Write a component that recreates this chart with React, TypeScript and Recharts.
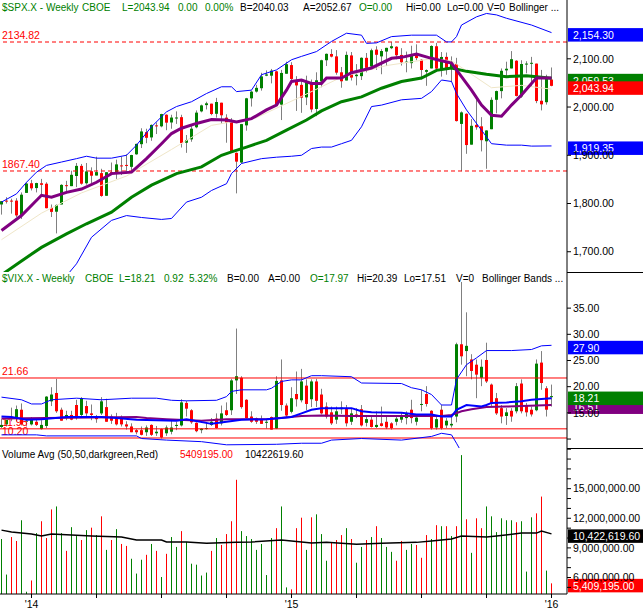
import React from "react";
import { ComposedChart, Bar, Line, XAxis, YAxis, ReferenceLine } from "recharts";

const FONT = "Arial, 'Liberation Sans', sans-serif";
const GREEN = "#008000";
const RED = "#ff0000";
const BLUE = "#0000ff";
const PURPLE = "#800080";
const WICK = "#808080";

const WIDTH = 643;
const AXIS_W = 76;
const X_DOMAIN: [number, number] = [-0.3, 113.1];

// weekly bars: index 0 = week of 18 Nov 2013, index 110 = week of 28 Dec 2015
const xTicks = [6, 19, 32, 45, 58, 71, 84, 97, 110];
const xTickLabels: Record<number, string> = { 6: "'14", 58: "'15", 110: "'16" };

// ---- $SPX weekly OHLC ----
const spxOpen = [
  1798, 1806, 1806, 1806, 1776, 1822, 1842, 1832, 1842, 1841,
  1791, 1783, 1798, 1838, 1836, 1857, 1878, 1842, 1867, 1858,
  1863, 1816, 1865, 1865, 1879, 1880, 1876, 1902, 1923, 1948,
  1937, 1962, 1960, 1984, 1968, 1977, 1979, 1926, 1933, 1958,
  1991, 2004, 2007, 1986, 2009, 1978, 1970, 1905, 1885, 1962,
  2018, 2032, 2039, 2065, 2065, 2074, 2005, 2069, 2087, 2054,
  2046, 2020, 2050, 1996, 2053, 2097, 2110, 2105, 2072, 2055,
  2107, 2064, 2064, 2102, 2084, 2119, 2105, 2115, 2122, 2125,
  2108, 2092, 2091, 2112, 2098, 2073, 2080, 2126, 2078, 2104,
  2080, 2089, 1965, 1986, 1922, 1963, 1960, 1929, 1954, 2015,
  2033, 2076, 2080, 2096, 2022, 2089, 2090, 2090, 2013, 2010,
  2057,
];
const spxHigh = [
  1805, 1813, 1810, 1811, 1823, 1844, 1849, 1843, 1851, 1844,
  1798, 1798, 1840, 1847, 1868, 1884, 1882, 1884, 1875, 1897,
  1872, 1865, 1885, 1891, 1897, 1902, 1901, 1924, 1956, 1955,
  1964, 1968, 1986, 1985, 1984, 1991, 1984, 1942, 1964, 1993,
  2005, 2011, 2007, 2019, 2009, 1985, 1977, 1906, 1965, 2019,
  2034, 2046, 2071, 2076, 2079, 2075, 2077, 2094, 2093, 2064,
  2056, 2065, 2057, 2072, 2098, 2111, 2120, 2118, 2083, 2115,
  2114, 2089, 2103, 2112, 2121, 2126, 2120, 2123, 2135, 2126,
  2122, 2115, 2127, 2130, 2099, 2078, 2128, 2133, 2114, 2113,
  2105, 2102, 1991, 1987, 1975, 2021, 1979, 1952, 2020, 2034,
  2080, 2094, 2116, 2097, 2097, 2095, 2104, 2090, 2077, 2067,
  2082,
];
const spxLow = [
  1777, 1800, 1779, 1772, 1768, 1822, 1827, 1823, 1815, 1790,
  1772, 1738, 1798, 1824, 1836, 1834, 1839, 1839, 1842, 1858,
  1814, 1816, 1859, 1851, 1859, 1862, 1868, 1901, 1915, 1925,
  1930, 1944, 1958, 1952, 1955, 1965, 1916, 1905, 1928, 1956,
  1989, 1995, 1983, 1978, 1965, 1926, 1906, 1821, 1883, 1951,
  2001, 2030, 2034, 2064, 2049, 2002, 1973, 2069, 2055, 1992,
  1988, 2004, 1989, 1981, 2041, 2085, 2103, 2067, 2040, 2055,
  2055, 2045, 2056, 2072, 2083, 2077, 2068, 2085, 2120, 2099,
  2086, 2072, 2080, 2097, 2057, 2044, 2080, 2077, 2063, 2067,
  2052, 1970, 1867, 1903, 1922, 1953, 1908, 1872, 1954, 1987,
  2018, 2062, 2080, 2022, 2019, 2070, 2042, 2008, 1993, 2005,
  2043,
];
const spxClose = [
  1804.8, 1805.8, 1805.1, 1775.3, 1818.3, 1841.4, 1831.4, 1842.4, 1838.7, 1790.3,
  1782.6, 1797.0, 1838.6, 1836.3, 1859.5, 1878.0, 1841.1, 1866.5, 1857.6, 1865.1,
  1815.7, 1864.9, 1863.4, 1881.1, 1878.5, 1877.9, 1900.5, 1923.6, 1949.4, 1936.2,
  1962.9, 1961.0, 1985.4, 1967.6, 1978.2, 1978.3, 1925.2, 1931.6, 1955.1, 1988.4,
  2003.4, 2007.7, 1985.5, 2010.4, 1982.9, 1967.9, 1906.1, 1886.8, 1964.6, 2018.1,
  2031.9, 2039.8, 2063.5, 2067.6, 2075.4, 2002.3, 2070.7, 2088.8, 2058.2, 2044.8,
  2019.4, 2051.8, 1995.0, 2055.5, 2097.0, 2110.3, 2104.5, 2071.3, 2053.4, 2108.1,
  2061.0, 2067.0, 2102.1, 2081.2, 2117.7, 2108.3, 2116.1, 2122.7, 2126.1, 2107.4,
  2092.8, 2094.1, 2110.0, 2101.5, 2076.8, 2076.6, 2126.6, 2079.7, 2103.8, 2077.6,
  2091.5, 1970.9, 1988.9, 1921.2, 1961.1, 1958.0, 1931.3, 1951.4, 2014.9, 2033.1,
  2075.2, 2079.4, 2099.2, 2023.0, 2089.2, 2090.1, 2091.7, 2012.4, 2005.6, 2061.0,
  2043.9,
];
const spxPrevClose = 1798.2; // close of the week before the first bar

// overlays, [week index, value]
const spxUpperBand: [number, number][] = [
  [0, 1803], [3, 1820], [5, 1844], [7, 1865], [9, 1879], [12, 1886], [15, 1893], [17, 1898],
  [19, 1894], [22, 1894], [25, 1900], [27, 1921], [30, 1959], [33, 1990], [35, 2001], [38, 2011],
  [41, 2028], [44, 2042], [46, 2042], [47, 2032], [50, 2035], [52, 2067], [55, 2077], [58, 2098],
  [60, 2105], [63, 2115], [66, 2136], [69, 2153], [72, 2149], [73, 2132], [75, 2133], [78, 2146],
  [82, 2149], [87, 2149], [89, 2135], [90, 2135], [91, 2146], [92, 2170], [95, 2187], [97, 2194],
  [99, 2191], [101, 2184], [106, 2170], [110, 2154.3],
];
const spxLowerBand: [number, number][] = [
  [0, 1630], [8, 1640], [13, 1650], [15, 1675], [18, 1730], [22, 1765], [25, 1775], [28, 1771],
  [32, 1767], [34, 1769], [37, 1803], [40, 1813], [42, 1827], [45, 1841], [46, 1862], [48, 1883],
  [52, 1893], [55, 1896], [58, 1898], [60, 1900], [62, 1914], [64, 1917], [66, 1917], [68, 1924],
  [70, 1931], [72, 1959], [74, 2001], [76, 2004], [80, 2015], [84, 2018], [86, 2032], [88, 2056],
  [90, 2053], [91, 2028], [93, 1994], [96, 1952], [98, 1924], [101, 1921], [104, 1921], [106, 1919],
  [110, 1919.35],
];
const spxMidBand: [number, number][] = [
  [0, 1725], [8, 1780], [16, 1822], [25, 1857], [34, 1912], [42, 1962], [51, 1978], [60, 2022],
  [68, 2062], [77, 2086], [86, 2100], [90, 2096], [98, 2040], [104, 2045], [110, 2037],
];
const spxMa10: [number, number][] = [
  [0, 1744], [4, 1775], [8, 1817], [10, 1813], [13, 1823], [16, 1830], [19, 1844], [22, 1862],
  [26, 1865], [29, 1893], [32, 1924], [34, 1945], [36, 1956], [39, 1966], [42, 1974], [45, 1973],
  [47, 1969], [50, 1976], [53, 1994], [55, 2004], [57, 2035], [58, 2053], [60, 2056], [62, 2049],
  [64, 2049], [65, 2060], [68, 2060], [70, 2071], [74, 2081], [78, 2101], [80, 2103], [83, 2110],
  [86, 2101], [88, 2096], [90, 2091], [92, 2063], [94, 2035], [96, 2004], [98, 1983], [100, 1981],
  [102, 2004], [104, 2025], [106, 2049], [107, 2060], [110, 2060],
];
const spxMa40: [number, number][] = [
  [0, 1652], [4, 1681], [8, 1709], [13, 1737], [17, 1758], [22, 1782], [26, 1813], [30, 1838],
  [35, 1862], [40, 1876], [44, 1900], [46, 1907], [49, 1917], [53, 1931], [57, 1952], [61, 1973],
  [64, 1992], [68, 2011], [72, 2021], [76, 2039], [80, 2053], [84, 2060], [87, 2076], [90, 2081],
  [93, 2074], [97, 2068], [101, 2063], [105, 2065], [110, 2059.53],
];
const spxTicks = [1700, 1800, 1900, 2000, 2100];
const spxLevels = [2134.82, 1867.4];
const spxTags: [number, string][] = [[2154.3, BLUE], [1919.35, BLUE], [2059.53, GREEN], [2043.94, RED]];

// ---- $VIX weekly OHLC ----
const vixOpen = [
  12.3, 12.8, 13.9, 14.0, 15.6, 13.4, 12.8, 13.3, 11.9, 12.5,
  17.2, 18.8, 15.6, 14.0, 14.6, 16.5, 14.6, 16.3, 14.9, 14.3,
  14.9, 16.1, 14.3, 14.2, 14.2, 12.8, 12.4, 11.7, 11.7, 11.3,
  12.7, 11.1, 11.9, 11.1, 11.4, 12.5, 12.6, 16.9, 15.5, 13.1,
  11.7, 12.0, 12.7, 13.9, 13.0, 15.5, 15.5, 21.2, 21.7, 17.5,
  14.3, 14.0, 13.7, 13.1, 14.2, 12.0, 21.2, 16.4, 15.2, 18.6,
  17.4, 20.2, 17.6, 21.0, 18.5, 16.2, 15.1, 13.7, 15.7, 15.9,
  13.3, 14.7, 15.7, 13.1, 13.7, 12.3, 13.0, 13.3, 13.0, 13.3,
  13.7, 14.0, 15.6, 13.3, 16.6, 18.6, 15.4, 12.2, 15.6, 12.6,
  12.6, 14.3, 28.1, 26.8, 25.2, 24.2, 21.7, 25.1, 20.4, 17.8,
  15.9, 14.4, 15.4, 15.3, 20.6, 16.4, 15.6, 15.5, 24.6, 19.7,
  18.0,
];
const vixHigh = [
  13.8, 13.5, 16.0, 16.4, 16.8, 14.0, 14.2, 13.9, 13.6, 18.2,
  19.9, 21.5, 16.0, 15.4, 15.4, 17.5, 18.0, 17.3, 16.6, 14.6,
  18.0, 17.7, 14.7, 15.0, 14.5, 13.4, 13.0, 11.9, 12.4, 12.6,
  12.8, 12.5, 12.0, 12.6, 13.7, 13.3, 17.6, 17.3, 15.7, 13.2,
  12.1, 13.1, 14.0, 14.9, 16.4, 17.0, 21.5, 31.1, 22.0, 17.6,
  15.3, 14.1, 14.5, 13.7, 14.3, 22.0, 25.2, 16.8, 19.9, 22.9,
  23.4, 21.4, 21.4, 21.5, 19.6, 17.0, 16.2, 16.2, 17.2, 16.5,
  15.9, 15.9, 16.5, 14.3, 14.4, 15.3, 16.2, 14.5, 13.2, 14.3,
  15.1, 15.3, 17.5, 14.5, 19.4, 20.1, 15.5, 14.2, 16.5, 14.0,
  14.5, 28.4, 40.0, 34.2, 26.2, 25.2, 25.2, 28.4, 20.6, 18.8,
  16.5, 15.9, 15.9, 20.7, 21.4, 16.9, 16.2, 25.2, 26.8, 20.1,
  20.4,
];
const vixLow = [
  12.1, 12.4, 13.4, 13.4, 12.6, 12.4, 12.6, 12.5, 11.8, 12.1,
  16.3, 15.0, 13.5, 13.6, 13.6, 13.7, 14.3, 14.2, 13.6, 13.1,
  14.6, 13.3, 12.9, 12.6, 12.4, 11.8, 11.3, 10.9, 10.7, 10.6,
  10.6, 10.6, 10.1, 10.6, 10.9, 11.7, 12.4, 14.3, 12.9, 11.3,
  11.1, 11.8, 12.5, 12.0, 12.6, 14.4, 14.6, 18.6, 15.8, 13.9,
  13.1, 12.9, 12.9, 12.0, 11.8, 11.9, 15.4, 14.1, 14.9, 16.2,
  17.0, 15.5, 16.1, 16.1, 14.7, 13.9, 12.7, 12.9, 14.8, 12.4,
  12.7, 14.0, 12.4, 12.4, 12.2, 12.1, 12.4, 11.9, 11.8, 12.6,
  13.1, 12.8, 13.0, 12.6, 15.3, 16.2, 11.8, 11.8, 11.8, 12.1,
  12.2, 13.2, 24.2, 22.0, 21.4, 17.8, 20.1, 20.7, 16.2, 14.6,
  13.0, 12.7, 13.3, 14.9, 14.9, 14.3, 14.3, 15.3, 19.4, 14.3,
  16.2,
];
const vixClose = [
  12.7, 13.7, 14.0, 15.7, 12.8, 13.5, 13.8, 12.7, 12.7, 18.1,
  18.5, 15.3, 13.5, 14.6, 13.7, 14.0, 17.8, 14.9, 14.6, 13.8,
  17.2, 13.3, 13.5, 12.8, 12.8, 12.4, 11.3, 11.3, 10.8, 12.2,
  10.8, 11.4, 10.3, 12.2, 12.2, 12.7, 17.0, 15.8, 13.2, 11.5,
  12.0, 12.1, 13.3, 12.1, 14.9, 14.6, 21.2, 22.0, 16.1, 14.0,
  13.3, 13.3, 12.9, 13.3, 11.8, 21.1, 16.5, 14.5, 17.8, 17.6,
  21.0, 16.7, 21.0, 17.3, 14.9, 14.3, 13.0, 15.3, 16.0, 13.0,
  14.9, 14.3, 12.6, 13.8, 12.3, 12.7, 12.5, 12.2, 12.1, 13.9,
  14.3, 14.9, 14.0, 14.1, 16.7, 16.7, 12.1, 13.8, 12.1, 13.5,
  12.9, 28.1, 25.8, 27.8, 23.0, 22.3, 23.8, 21.0, 16.9, 14.9,
  14.3, 15.1, 14.3, 20.1, 15.3, 15.1, 14.7, 24.4, 20.7, 15.6,
  18.2,
];
const vixUpperBand: [number, number][] = [
  [0, 18.0], [4, 17.5], [6, 16.7], [8, 16.7], [10, 17.5], [15, 17.8], [20, 17.5], [26, 17.8],
  [31, 17.8], [34, 17.4], [37, 17.3], [43, 17.4], [45, 18.1], [46, 19.1], [48, 19.4], [53, 19.4],
  [54, 19.7], [56, 21.0], [58, 21.3], [60, 21.3], [62, 22.1], [64, 22.1], [70, 21.9], [72, 20.7],
  [80, 20.6], [82, 19.8], [84, 19.4], [86, 18.5], [88, 16.5], [90, 16.5], [91, 21.4], [93, 24.2],
  [95, 25.5], [97, 26.9], [102, 26.9], [106, 27.1], [108, 27.8], [110, 27.9],
];
const vixLowerBand: [number, number][] = [
  [0, 10.8], [7, 10.8], [9, 10.6], [27, 10.6], [28, 10.1], [33, 9.8], [40, 9.5], [45, 8.9],
  [55, 9.0], [60, 9.2], [64, 9.2], [66, 9.8], [72, 10.1], [80, 9.8], [86, 10.5], [88, 11.1],
  [90, 10.8], [91, 9.2], [92, 7.5], [95, 7.1], [97, 6.1], [102, 7.1], [106, 7.5], [110, 7.7],
];
const vixMidBand: [number, number][] = [
  [0, 14.3], [2, 14.2], [5, 13.7], [8, 13.8], [13, 14.2], [20, 14.2], [23, 14.0], [27, 13.7],
  [35, 13.5], [37, 13.8], [42, 12.9], [45, 13.3], [48, 13.7], [53, 13.8], [56, 14.0], [58, 14.2],
  [60, 14.9], [62, 15.6], [64, 15.9], [70, 15.9], [72, 15.3], [74, 15.1], [80, 15.0], [83, 14.7],
  [86, 14.7], [88, 14.3], [90, 14.3], [91, 15.6], [93, 16.5], [96, 16.2], [97, 16.5], [98, 16.9],
  [101, 17.0], [104, 17.2], [106, 17.5], [110, 17.8],
];
const vixMa: [number, number][] = [
  [0, 13.9], [27, 14.2], [29, 14.0], [33, 13.8], [40, 13.5], [45, 13.8], [53, 13.8], [60, 14.4],
  [64, 14.5], [70, 14.4], [80, 14.4], [88, 14.4], [90, 14.6], [92, 15.3], [94, 15.7], [97, 16.1],
  [101, 16.2], [107, 16.4], [110, 16.51],
];
const vixTicks = [10, 15, 20, 25, 30, 35];
const vixLevels = [21.66, 11.95, 10.2];
const vixTags: [number, string][] = [[27.9, BLUE], [16.51, PURPLE], [18.21, GREEN]];

// ---- volume, millions ----
const volume = [
  9.9, 6.3, 10.1, 9.7, 11.8, 4.56, 5.7, 10.5, 11.7, 10.0,
  12.9, 13.2, 10.5, 8.7, 11.1, 10.2, 9.8, 10.8, 11.05, 10.3,
  12.2, 8.8, 9.8, 10.9, 9.4, 9.2, 7.9, 6.4, 7.8, 8.3,
  9.4, 8.7, 6.05, 8.4, 10.1, 9.1, 10.7, 9.6, 7.4, 7.3,
  6.2, 6.5, 8.7, 10.0, 9.3, 10.4, 11.7, 15.9, 10.7, 10.2,
  9.9, 8.8, 9.4, 6.25, 10.0, 11.0, 13.2, 5.0, 4.8, 11.0,
  12.06, 8.8, 12.1, 12.4, 10.4, 7.7, 9.6, 9.8, 10.3, 11.0,
  9.9, 7.5, 9.1, 9.8, 10.1, 11.2, 10.0, 9.1, 8.6, 7.7,
  9.7, 8.8, 9.4, 9.3, 8.0, 10.3, 9.9, 11.3, 11.2, 11.2,
  10.2, 11.2, 18.4, 11.9, 8.5, 12.0, 11.0, 13.2, 12.2, 10.6,
  12.0, 11.8, 11.8, 11.6, 11.7, 6.6, 12.1, 12.5, 14.2, 6.7,
  5.409195,
];
const volumeAvg: [number, number][] = [
  [0, 10.8], [2, 10.6], [6, 10.4], [8, 10.2], [10, 10.4], [18, 10.2], [24, 10.1], [27, 9.8],
  [32, 9.8], [33, 9.6], [37, 9.6], [41, 9.46], [47, 9.56], [50, 9.6], [56, 9.8], [60, 9.6],
  [62, 9.5], [65, 9.56], [71, 9.36], [76, 9.46], [83, 9.56], [86, 9.7], [90, 9.9], [92, 10.2],
  [97, 10.1], [99, 10.2], [104, 10.5], [107, 10.5], [108, 10.7], [110, 10.4226196],
];
const volTicks = [5, 6, 7, 8, 9, 10, 11, 12, 13, 14, 15, 16, 17, 18, 19];
const volLabelled = [6, 9, 12, 15];
const volTags: [number, string][] = [[10.4226196, "#000000"], [5.409195, RED]];

// ---- build rows ----
const at = (pairs: [number, number][]) => {
  const m = new Map(pairs);
  return (i: number) => (m.has(i) ? (m.get(i) as number) : null);
};
const sUp = at(spxUpperBand), sLo = at(spxLowerBand), sMid = at(spxMidBand), sM10 = at(spxMa10), sM40 = at(spxMa40);
const vUp = at(vixUpperBand), vLo = at(vixLowerBand), vMid = at(vixMidBand), vMa = at(vixMa);
const vAvg = at(volumeAvg);

const spxRows = spxClose.map((c, i) => ({
  i, o: spxOpen[i], h: spxHigh[i], l: spxLow[i], c,
  range: [spxLow[i], spxHigh[i]],
  upper: sUp(i), lower: sLo(i), mid: sMid(i), ma10: sM10(i), ma40: sM40(i),
}));
const vixRows = vixClose.map((c, i) => ({
  i, o: vixOpen[i], h: vixHigh[i], l: vixLow[i], c,
  range: [vixLow[i], vixHigh[i]],
  upper: vUp(i), lower: vLo(i), mid: vMid(i), ma: vMa(i),
}));
const volRows = volume.map((v, i) => ({
  i, vol: v, avg: vAvg(i),
  up: spxClose[i] >= (i === 0 ? spxPrevClose : spxClose[i - 1]),
}));

const fmt2 = (v: number) => v.toLocaleString("en-US", { minimumFractionDigits: 2, maximumFractionDigits: 2 });

function Candle(props: any) {
  const { x, y, width, height, payload } = props;
  if (x == null || y == null || !payload) return null;
  const { o, h, l, c } = payload;
  const cx = Math.floor(x + width / 2);
  const k = h > l ? height / (h - l) : 0;
  const py = (v: number) => y + (h - v) * k;
  const top = py(Math.max(o, c));
  const bottom = py(Math.min(o, c));
  return (
    <g>
      <line x1={cx + 0.5} x2={cx + 0.5} y1={y} y2={y + height} stroke={WICK} strokeWidth={1} />
      <rect x={cx - 1} y={top} width={3} height={Math.max(bottom - top, 1)} fill={c >= o ? GREEN : RED} />
    </g>
  );
}

function VolBar(props: any) {
  const { x, y, width, height, payload } = props;
  if (x == null || y == null || !payload) return null;
  const cx = Math.floor(x + width / 2);
  return <rect x={cx} y={y} width={1} height={Math.max(height, 0)} fill={payload.up ? GREEN : RED} />;
}

function ValueTag(props: any) {
  const { viewBox, fill, text } = props;
  if (!viewBox) return null;
  const right = viewBox.x + viewBox.width;
  const y = viewBox.y;
  return (
    <g>
      <rect x={right + 1} y={y - 4.5} width={WIDTH - right - 1} height={13.5} fill={fill} />
      <text x={right + 6} y={y + 6.2} fill="#ffffff" fontSize={10.5} fontFamily={FONT}>{text}</text>
    </g>
  );
}

function LevelTag(props: any) {
  const { viewBox, text } = props;
  if (!viewBox) return null;
  return (
    <text x={viewBox.x + 2} y={viewBox.y - 3} fill={RED} fontSize={10.5} fontFamily={FONT}>{text}</text>
  );
}

const axisTick = { fontSize: 10.5, fill: "#000000", fontFamily: FONT };
const black = { stroke: "#000000" };

function line(key: string, color: string, width: number) {
  return (
    <Line key={key} dataKey={key} stroke={color} strokeWidth={width} dot={false} activeDot={false}
      connectNulls isAnimationActive={false} />
  );
}

function PriceChart() {
  return (
    <ComposedChart width={WIDTH} height={272} data={spxRows} margin={{ top: 0, right: 0, bottom: 0, left: 0 }}>
      <XAxis type="number" dataKey="i" domain={X_DOMAIN} allowDataOverflow hide />
      <YAxis orientation="right" width={AXIS_W} domain={[1658, 2221.9]} allowDataOverflow ticks={spxTicks}
        interval={0} tickFormatter={fmt2} tick={axisTick} tickSize={4} tickMargin={2} axisLine={black} tickLine={black} />
      {spxLevels.map((v) => (
        <ReferenceLine key={v} y={v} stroke={RED} strokeDasharray="4 3" ifOverflow="visible"
          label={<LevelTag text={v.toFixed(2)} />} />
      ))}
      <Bar dataKey="range" barSize={3} isAnimationActive={false} shape={(p: any) => <Candle {...p} />} />
      {line("mid", "#efe6c8", 1)}
      {line("upper", BLUE, 1)}
      {line("lower", BLUE, 1)}
      {line("ma40", GREEN, 3)}
      {line("ma10", PURPLE, 3)}
      {spxTags.map(([v, col]) => (
        <ReferenceLine key={"t" + v} y={v} stroke="none" ifOverflow="visible"
          label={<ValueTag fill={col} text={fmt2(v)} />} />
      ))}
    </ComposedChart>
  );
}

function VixChart() {
  return (
    <ComposedChart width={WIDTH} height={176} data={vixRows} margin={{ top: 0, right: 0, bottom: 0, left: 0 }}>
      <XAxis type="number" dataKey="i" domain={X_DOMAIN} allowDataOverflow hide />
      <YAxis orientation="right" width={AXIS_W} domain={[8.29, 41.9]} allowDataOverflow ticks={vixTicks}
        interval={0} tickFormatter={(v: number) => (v === 10 ? "" : fmt2(v))} tick={axisTick}
        tickSize={4} tickMargin={2} axisLine={black} tickLine={black} />
      {vixLevels.map((v) => (
        <ReferenceLine key={v} y={v} stroke={RED} strokeWidth={1} ifOverflow="visible"
          label={<LevelTag text={v.toFixed(2)} />} />
      ))}
      <Bar dataKey="range" barSize={3} isAnimationActive={false} shape={(p: any) => <Candle {...p} />} />
      {line("upper", BLUE, 1)}
      {line("lower", BLUE, 1)}
      {line("ma", PURPLE, 2)}
      {line("mid", BLUE, 2)}
      {vixTags.map(([v, col]) => (
        <ReferenceLine key={"t" + v} y={v} stroke="none" ifOverflow="visible"
          label={<ValueTag fill={col} text={fmt2(v)} />} />
      ))}
    </ComposedChart>
  );
}

function VolumeChart() {
  return (
    <ComposedChart width={WIDTH} height={162} data={volRows} margin={{ top: 0, right: 0, bottom: 0, left: 0 }}>
      <XAxis type="number" dataKey="i" domain={X_DOMAIN} allowDataOverflow ticks={xTicks} interval={0}
        tickFormatter={(v: number) => xTickLabels[v] ?? ""} height={16} tick={axisTick}
        tickSize={4} tickMargin={3} axisLine={black} tickLine={black} />
      <YAxis orientation="right" width={AXIS_W} domain={[4.33, 19.12]} allowDataOverflow ticks={volTicks}
        interval={0} tickFormatter={(v: number) => (volLabelled.includes(v) ? fmt2(v * 1e6) : "")}
        tick={axisTick} tickSize={4} tickMargin={2} axisLine={black} tickLine={black} />
      <Bar dataKey="vol" barSize={1} isAnimationActive={false} shape={(p: any) => <VolBar {...p} />} />
      <Line dataKey="avg" stroke="#000000" strokeWidth={1.5} dot={false} activeDot={false} connectNulls
        isAnimationActive={false} />
      {volTags.map(([v, col]) => (
        <ReferenceLine key={"t" + v} y={v} stroke="none" ifOverflow="visible"
          label={<ValueTag fill={col} text={fmt2(v * 1e6)} />} />
      ))}
    </ComposedChart>
  );
}

type Seg = [string, number, string];
const spxHeader: Seg[] = [
  ["$SPX.X - Weekly", 2, GREEN], ["CBOE", 82, GREEN], ["L=2043.94", 122, GREEN], ["0.00", 178, GREEN],
  ["0.00%", 205, GREEN], ["B=2040.03", 240, "#000"], ["A=2052.67", 303, "#000"], ["O=0.00", 359, GREEN],
  ["Hi=0.00", 406, "#000"], ["Lo=0.00", 447, "#000"], ["V=0", 487, "#000"], ["Bollinger ...", 509, "#000"],
];
const vixHeader: Seg[] = [
  ["$VIX.X - Weekly", 2, GREEN], ["CBOE", 85, GREEN], ["L=18.21", 119, GREEN], ["0.92", 164, GREEN],
  ["5.32%", 189, GREEN], ["B=0.00", 227, "#000"], ["A=0.00", 268, "#000"], ["O=17.97", 310, GREEN],
  ["Hi=20.39", 357, "#000"], ["Lo=17.51", 404, "#000"], ["V=0", 456, "#000"], ["Bollinger Bands ...", 482, "#000"],
];
const volHeader: Seg[] = [
  ["Volume Avg (50,50,darkgreen,Red)", 2, "#000"], ["5409195.00", 180, RED], ["10422619.60", 245, "#000"],
];

function Header({ top, segs }: { top: number; segs: Seg[] }) {
  return (
    <>
      {segs.map(([t, x, col], k) => (
        <span key={k} style={{ position: "absolute", left: x, top, fontSize: 10, lineHeight: "12px",
          color: col, whiteSpace: "pre", fontFamily: FONT }}>{t}</span>
      ))}
    </>
  );
}

export default function App() {
  const plotRight = WIDTH - AXIS_W;
  return (
    <div style={{ position: "relative", width: WIDTH, height: 610, background: "#fff", overflow: "hidden", fontFamily: FONT }}>
      <style>{"body{margin:0}"}</style>
      <div style={{ position: "absolute", left: 0, top: 0 }}><PriceChart /></div>
      <div style={{ position: "absolute", left: 0, top: 272 }}><VixChart /></div>
      <div style={{ position: "absolute", left: 0, top: 448 }}><VolumeChart /></div>
      <div style={{ position: "absolute", left: plotRight, top: 272, width: AXIS_W, height: 1, background: "#000" }} />
      <div style={{ position: "absolute", left: plotRight, top: 448, width: AXIS_W, height: 1, background: "#000" }} />
      <Header top={1.8} segs={spxHeader} />
      <Header top={272.8} segs={vixHeader} />
      <Header top={448.8} segs={volHeader} />
    </div>
  );
}
